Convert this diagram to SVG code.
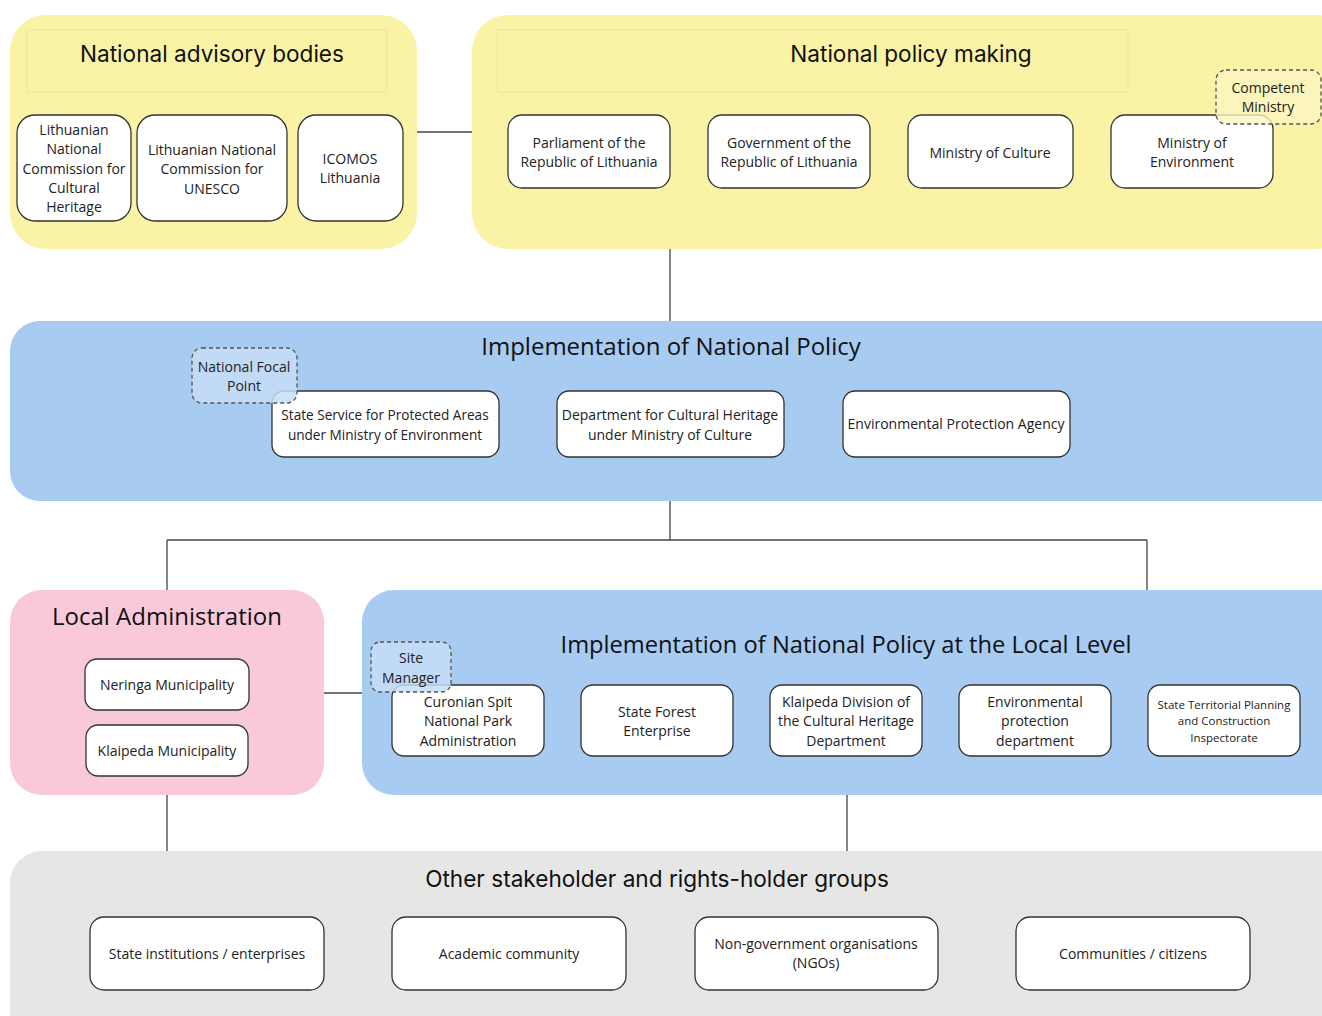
<svg xmlns="http://www.w3.org/2000/svg" width="1322" height="1016" viewBox="0 0 1322 1016">
<style>
.node rect.b{fill:#ffffff;stroke:#333333;stroke-width:1.3}
.dash rect{stroke:#555555;stroke-width:1.3;stroke-dasharray:4 3}
.t{font-family:"Open Sans","Noto Sans",sans-serif;font-size:14px;fill:#222222;text-anchor:middle}
.h{font-family:Inter,"Open Sans",sans-serif;font-size:22.6px;fill:#111111;text-anchor:middle}
.ho{font-family:"Open Sans","Noto Sans",sans-serif;font-size:24px;fill:#111111;text-anchor:middle}
.conn line{stroke:#444444;stroke-width:1.3}
</style>
<rect width="1322" height="1016" fill="#ffffff"/>
<g class="conn" id="connectors">
<line x1="417" y1="132" x2="472" y2="132"/>
<line x1="670" y1="249" x2="670" y2="321"/>
<line x1="670" y1="501" x2="670" y2="540"/>
<line x1="167" y1="540" x2="1147" y2="540"/>
<line x1="167" y1="540" x2="167" y2="590"/>
<line x1="1147" y1="540" x2="1147" y2="590"/>
<line x1="324" y1="693" x2="362" y2="693"/>
<line x1="167" y1="795" x2="167" y2="851"/>
<line x1="847" y1="795" x2="847" y2="851"/>
</g>
<g id="advisory">
<rect x="10" y="15" width="407" height="234" rx="36" fill="#FAF3A6"/>
<rect x="27" y="30" width="360" height="62" fill="none" stroke="#ECE5A0" stroke-width="1"/>
<text class="h" x="212" y="62">National advisory bodies</text>
</g>
<g id="policy">
<rect x="472" y="15" width="880" height="234" rx="36" fill="#FAF3A6"/>
<rect x="497" y="30" width="631" height="62" fill="none" stroke="#ECE5A0" stroke-width="1"/>
<text class="h" x="911" y="62">National policy making</text>
</g>
<g id="n-lncch" class="node"><rect class="b" x="17" y="115" width="114" height="106" rx="18"/>
<text class="t" x="74" y="135">Lithuanian<tspan x="74" dy="19.3">National</tspan><tspan x="74" dy="19.3">Commission for</tspan><tspan x="74" dy="19.3">Cultural</tspan><tspan x="74" dy="19.3">Heritage</tspan></text></g>
<g id="n-unesco" class="node"><rect class="b" x="137" y="115" width="150" height="106" rx="18"/>
<text class="t" x="212" y="155">Lithuanian National<tspan x="212" dy="19.3">Commission for</tspan><tspan x="212" dy="19.3">UNESCO</tspan></text></g>
<g id="n-icomos" class="node"><rect class="b" x="298" y="115" width="105" height="106" rx="18"/>
<text class="t" x="350" y="164">ICOMOS<tspan x="350" dy="19.3">Lithuania</tspan></text></g>
<g id="n-parliament" class="node"><rect class="b" x="508" y="115" width="162" height="73" rx="14"/>
<text class="t" x="589" y="148">Parliament of the<tspan x="589" dy="19">Republic of Lithuania</tspan></text></g>
<g id="n-government" class="node"><rect class="b" x="708" y="115" width="162" height="73" rx="14"/>
<text class="t" x="789" y="148">Government of the<tspan x="789" dy="19">Republic of Lithuania</tspan></text></g>
<g id="n-culture" class="node"><rect class="b" x="908" y="115" width="165" height="73" rx="14"/>
<text class="t" x="990" y="158">Ministry of Culture</text></g>
<g id="n-environment" class="node"><rect class="b" x="1111" y="115" width="162" height="73" rx="14"/>
<text class="t" x="1192" y="148">Ministry of<tspan x="1192" dy="19">Environment</tspan></text></g>
<g id="n-competent" class="dash"><rect x="1216" y="70" width="105" height="54" rx="10" fill="#FBF5C2" fill-opacity="0.8"/>
<text class="t" x="1268" y="93">Competent<tspan x="1268" dy="19">Ministry</tspan></text></g>

<g id="implementation">
<rect x="10" y="321" width="1342" height="180" rx="30" fill="#A7CBF1"/>
<text class="ho" x="671" y="355">Implementation of National Policy</text>
</g>
<g id="n-stateservice" class="node"><rect class="b" x="272" y="391" width="227" height="66" rx="12"/>
<text class="t" x="385" y="420" style="font-size:13.6px">State Service for Protected Areas<tspan x="385" dy="19.5">under Ministry of Environment</tspan></text></g>
<g id="n-focal" class="dash"><rect x="192" y="348" width="105" height="55" rx="10" fill="#C5DDF7" fill-opacity="0.85"/>
<text class="t" x="244" y="372">National Focal<tspan x="244" dy="19">Point</tspan></text></g>
<g id="n-department" class="node"><rect class="b" x="557" y="391" width="227" height="66" rx="12"/>
<text class="t" x="670" y="420">Department for Cultural Heritage<tspan x="670" dy="19.5">under Ministry of Culture</tspan></text></g>
<g id="n-epa" class="node"><rect class="b" x="843" y="391" width="227" height="66" rx="12"/>
<text class="t" x="956" y="429">Environmental Protection Agency</text></g>

<g id="local-admin">
<rect x="10" y="590" width="314" height="205" rx="32" fill="#F9C9DA"/>
<text class="ho" x="167" y="625">Local Administration</text>
</g>
<g id="n-neringa" class="node"><rect class="b" x="85" y="659" width="164" height="51" rx="12"/>
<text class="t" x="167" y="690">Neringa Municipality</text></g>
<g id="n-klaipedam" class="node"><rect class="b" x="86" y="725" width="162" height="51" rx="12"/>
<text class="t" x="167" y="756">Klaipeda Municipality</text></g>

<g id="local-level">
<rect x="362" y="590" width="990" height="205" rx="32" fill="#A7CBF1"/>
<text class="ho" x="846" y="653" style="font-size:23.7px">Implementation of National Policy at the Local Level</text>
</g>
<g id="n-curonian" class="node"><rect class="b" x="392" y="685" width="152" height="71" rx="12"/>
<text class="t" x="468" y="707">Curonian Spit<tspan x="468" dy="19.3">National Park</tspan><tspan x="468" dy="19.3">Administration</tspan></text></g>
<g id="n-sitemanager" class="dash"><rect x="371" y="642" width="80" height="50" rx="9" fill="#C5DDF7" fill-opacity="0.85"/>
<text class="t" x="411" y="663">Site<tspan x="411" dy="19.5">Manager</tspan></text></g>
<g id="n-forest" class="node"><rect class="b" x="581" y="685" width="152" height="71" rx="12"/>
<text class="t" x="657" y="717">State Forest<tspan x="657" dy="19.3">Enterprise</tspan></text></g>
<g id="n-klaipedadiv" class="node"><rect class="b" x="770" y="685" width="152" height="71" rx="12"/>
<text class="t" x="846" y="707">Klaipeda Division of<tspan x="846" dy="19.3">the Cultural Heritage</tspan><tspan x="846" dy="19.3">Department</tspan></text></g>
<g id="n-envdept" class="node"><rect class="b" x="959" y="685" width="152" height="71" rx="12"/>
<text class="t" x="1035" y="707">Environmental<tspan x="1035" dy="19.3">protection</tspan><tspan x="1035" dy="19.3">department</tspan></text></g>
<g id="n-territorial" class="node"><rect class="b" x="1148" y="685" width="152" height="71" rx="12"/>
<text class="t" x="1224" y="709" style="font-size:11.5px">State Territorial Planning<tspan x="1224" dy="16.3">and Construction</tspan><tspan x="1224" dy="16.3">Inspectorate</tspan></text></g>

<g id="other">
<rect x="10" y="851" width="1342" height="200" rx="32" fill="#E6E6E6"/>
<text class="h" x="657" y="887">Other stakeholder and rights-holder groups</text>
</g>
<g id="n-stateinst" class="node"><rect class="b" x="90" y="917" width="234" height="73" rx="14"/>
<text class="t" x="207" y="959">State institutions / enterprises</text></g>
<g id="n-academic" class="node"><rect class="b" x="392" y="917" width="234" height="73" rx="14"/>
<text class="t" x="509" y="959">Academic community</text></g>
<g id="n-ngo" class="node"><rect class="b" x="695" y="917" width="243" height="73" rx="14"/>
<text class="t" x="816" y="949">Non-government organisations<tspan x="816" dy="19">(NGOs)</tspan></text></g>
<g id="n-communities" class="node"><rect class="b" x="1016" y="917" width="234" height="73" rx="14"/>
<text class="t" x="1133" y="959">Communities / citizens</text></g>
</svg>
